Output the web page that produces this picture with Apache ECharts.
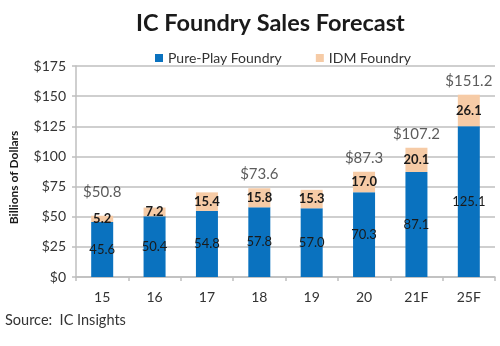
<!DOCTYPE html>
<html>
<head>
<meta charset="utf-8">
<script src="https://cdn.jsdelivr.net/npm/echarts@6/dist/echarts.min.js"></script>
<style>
  html, body {margin: 0; padding: 0; background: #fff;}
  #chart {width: 500px; height: 346px;}
</style>
</head>
<body>
<div id="chart"></div>
<script>
const years = ['15', '16', '17', '18', '19', '20', '21F', '25F'];
const purePlay = [45.6, 50.4, 54.8, 57.8, 57.0, 70.3, 87.1, 125.1];
const idm = [5.2, 7.2, 15.4, 15.8, 15.3, 17.0, 20.1, 26.1];
const totals = [50.8, null, null, 73.6, null, 87.3, 107.2, 151.2];
const yTicks = [0, 25, 50, 75, 100, 125, 150, 175];

const font = 'Lato';
const gridColor = '#bfbfbf';

const chart = echarts.init(document.getElementById('chart'));
chart.setOption({
  animation: false,
  textStyle: {fontFamily: font},
  title: {
    text: 'IC Foundry Sales Forecast',
    left: 131,
    top: 6,
    textStyle: {fontFamily: font, fontSize: 23.5, fontWeight: 'bold', color: '#1a1a1a'}
  },
  legend: {
    left: 150,
    top: 46,
    itemWidth: 8,
    itemHeight: 8,
    itemGap: 34,
    icon: 'rect',
    textStyle: {fontFamily: font, fontSize: 14, color: '#333'},
    data: ['Pure-Play Foundry', 'IDM Foundry']
  },
  graphic: [{
    type: 'text',
    left: 5,
    top: 313,
    style: {text: 'Source:  IC Insights', fontFamily: font, fontSize: 14.5, fill: '#333'}
  }],
  grid: {left: 76, right: 5, top: 66, bottom: 69},
  xAxis: {
    type: 'category',
    data: years,
    axisLine: {lineStyle: {color: gridColor, width: 1.5}},
    axisTick: {show: true, length: 4, lineStyle: {color: gridColor, width: 1.5}},
    axisLabel: {fontFamily: font, fontSize: 14, color: '#333', margin: 13}
  },
  yAxis: {
    type: 'value',
    min: yTicks[0],
    max: yTicks[yTicks.length - 1],
    interval: yTicks[1] - yTicks[0],
    name: 'Billions of Dollars',
    nameLocation: 'middle',
    nameGap: 56,
    nameTextStyle: {fontFamily: font, fontSize: 12, fontWeight: 'bold', color: '#1a1a1a', padding: [0, 0, 0, -12]},
    axisLine: {show: true, lineStyle: {color: gridColor, width: 1.5}},
    axisTick: {show: true, length: 4, lineStyle: {color: gridColor, width: 1.5}},
    splitLine: {lineStyle: {color: gridColor, width: 1.5}},
    axisLabel: {fontFamily: font, fontSize: 14, color: '#333', margin: 10, formatter: v => '$' + v}
  },
  series: [
    {
      name: 'Pure-Play Foundry',
      type: 'bar',
      stack: 'all',
      barWidth: 22,
      itemStyle: {color: '#0a72bf'},
      label: {
        show: true,
        position: 'inside',
        fontFamily: font,
        fontSize: 13,
        color: '#1a1a1a',
        formatter: p => p.value.toFixed(1)
      },
      data: purePlay
    },
    {
      name: 'IDM Foundry',
      type: 'bar',
      stack: 'all',
      barWidth: 22,
      itemStyle: {color: '#f6cba6'},
      label: {
        show: true,
        position: 'inside',
        fontFamily: font,
        fontSize: 13,
        fontWeight: 'bold',
        color: '#1a1a1a',
        formatter: p => p.value.toFixed(1)
      },
      data: idm
    },
    {
      name: 'Total',
      type: 'scatter',
      symbolSize: 1,
      itemStyle: {color: 'rgba(0,0,0,0)'},
      silent: true,
      z: 5,
      label: {
        show: true,
        position: 'top',
        distance: 6,
        fontFamily: font,
        fontSize: 15,
        color: '#333',
        formatter: p => '$' + Number(p.value).toFixed(1)
      },
      data: totals.map((v, i) => v == null ? null : (i === 0 ? {value: v, label: {offset: [0, -10]}} : v))
    }
  ]
});
</script>
</body>
</html>
